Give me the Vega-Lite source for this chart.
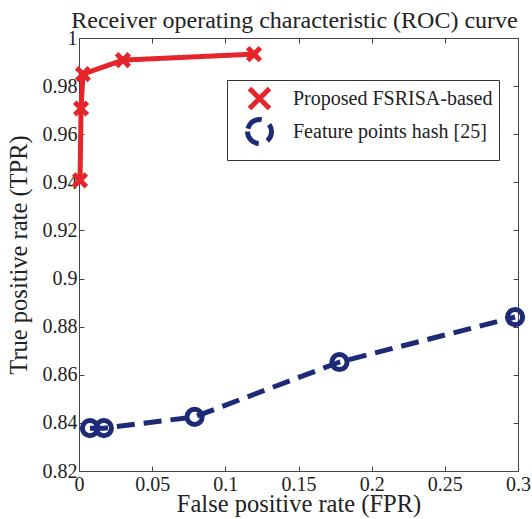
{
  "$schema": "https://vega.github.io/schema/vega-lite/v6.json",
  "width": 439,
  "height": 433,
  "autosize": {"type": "none"},
  "padding": {"left": 79, "top": 38, "right": 14, "bottom": 48},
  "background": "white",
  "title": {
    "text": "Receiver operating characteristic (ROC) curve",
    "font": "Liberation Serif",
    "fontSize": 24,
    "fontWeight": "normal",
    "color": "#222",
    "anchor": "middle",
    "dx": -4,
    "offset": -5
  },
  "data": {
    "values": [
      {"series": "Proposed FSRISA-based", "fpr": 0.0007, "tpr": 0.9408},
      {"series": "Proposed FSRISA-based", "fpr": 0.0014, "tpr": 0.9707},
      {"series": "Proposed FSRISA-based", "fpr": 0.0027, "tpr": 0.985},
      {"series": "Proposed FSRISA-based", "fpr": 0.030, "tpr": 0.9908},
      {"series": "Proposed FSRISA-based", "fpr": 0.1196, "tpr": 0.9933},
      {"series": "Feature points hash [25]", "fpr": 0.0075, "tpr": 0.8378},
      {"series": "Feature points hash [25]", "fpr": 0.017, "tpr": 0.8378},
      {"series": "Feature points hash [25]", "fpr": 0.079, "tpr": 0.8425},
      {"series": "Feature points hash [25]", "fpr": 0.178, "tpr": 0.8653},
      {"series": "Feature points hash [25]", "fpr": 0.298, "tpr": 0.884}
    ]
  },
  "config": {
    "font": "Liberation Serif",
    "view": {"stroke": null},
    "axis": {
      "grid": false,
      "domainColor": "#444",
      "domainWidth": 1,
      "tickColor": "#444",
      "tickWidth": 1,
      "tickSize": -5,
      "labelFont": "Liberation Serif",
      "labelFontSize": 20,
      "labelColor": "#222",
      "titleFont": "Liberation Serif",
      "titleFontSize": 24,
      "titleFontWeight": "normal",
      "titleColor": "#222",
      "labelOverlap": false,
      "labelBound": false,
      "labelFlush": false
    }
  },
  "resolve": {"axis": {"x": "independent", "y": "independent"}},
  "layer": [
    {
      "mark": {"type": "line", "strokeWidth": 5, "strokeCap": "butt"},
      "encoding": {
        "x": {
          "field": "fpr", "type": "quantitative",
          "scale": {"domain": [0, 0.3], "nice": false, "zero": false},
          "axis": {"orient": "bottom", "title": "False positive rate (FPR)", "values": [0, 0.05, 0.1, 0.15, 0.2, 0.25, 0.3], "format": "~g", "labelPadding": 8, "titlePadding": -2, "titleFontSize": 24.5}
        },
        "y": {
          "field": "tpr", "type": "quantitative",
          "scale": {"domain": [0.82, 1], "nice": false, "zero": false},
          "axis": {"orient": "left", "title": "True positive rate (TPR)", "values": [0.82, 0.84, 0.86, 0.88, 0.9, 0.92, 0.94, 0.96, 0.98, 1], "format": "~g", "labelPadding": 7, "titlePadding": 11, "titleFontSize": 24.5}
        },
        "color": {
          "field": "series", "type": "nominal",
          "scale": {"domain": ["Proposed FSRISA-based", "Feature points hash [25]"], "range": ["#e5252a", "#1d2a78"]},
          "legend": {
            "title": null,
            "orient": "none",
            "legendX": 148,
            "legendY": 42,
            "padding": 6,
            "strokeColor": "#333",
            "fillColor": "white",
            "symbolSize": 400,
            "symbolStrokeWidth": 5,
            "symbolOffset": 14,
            "labelOffset": 21,
            "rowPadding": -23,
            "labelFont": "Liberation Serif",
            "labelFontSize": 20,
            "labelColor": "#222",
            "labelLimit": 400
          }
        },
        "strokeDash": {
          "field": "series", "type": "nominal",
          "scale": {"domain": ["Proposed FSRISA-based", "Feature points hash [25]"], "range": [[1, 0], [18, 9]]}
        }
      }
    },
    {
      "mark": {"type": "point", "filled": false, "strokeWidth": 5, "opacity": 1, "size": 160},
      "encoding": {
        "x": {
          "field": "fpr", "type": "quantitative",
          "axis": {"orient": "top", "title": null, "labels": false, "values": [0, 0.05, 0.1, 0.15, 0.2, 0.25, 0.3]}
        },
        "y": {
          "field": "tpr", "type": "quantitative",
          "axis": {"orient": "right", "title": null, "labels": false, "values": [0.82, 0.84, 0.86, 0.88, 0.9, 0.92, 0.94, 0.96, 0.98, 1]}
        },
        "shape": {
          "field": "series", "type": "nominal",
          "scale": {"domain": ["Proposed FSRISA-based", "Feature points hash [25]"], "range": ["M-1,-1L1,1M1,-1L-1,1", "M-1.2,0A1.2,1.2,0,1,0,1.2,0A1.2,1.2,0,1,0,-1.2,0"]}
        },
        "color": {"field": "series", "type": "nominal"}
      }
    }
  ]
}
